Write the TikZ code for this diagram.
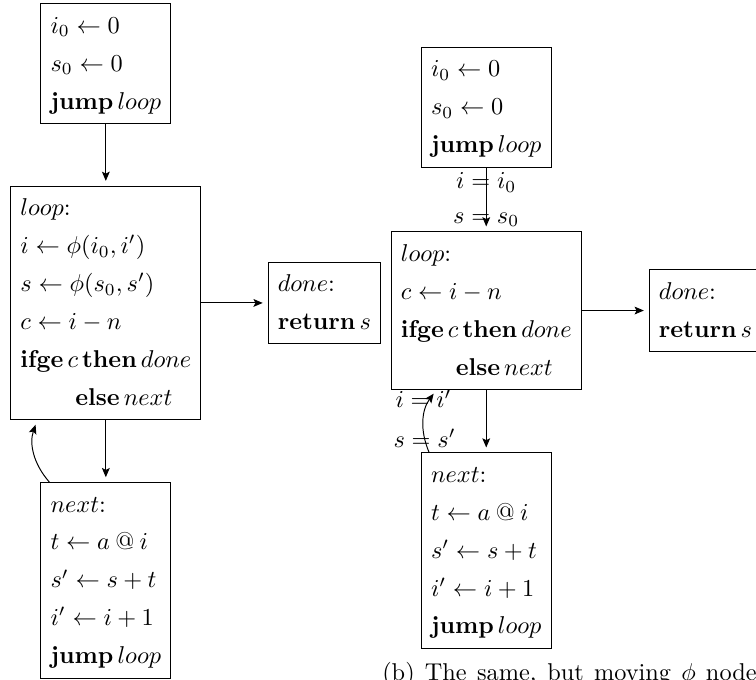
\documentclass[tikz,border=0pt]{standalone}
\usepackage{amsmath}
\usepackage{tikz}
\usetikzlibrary{arrows.meta}
\renewcommand{\arraystretch}{1.3}

\begin{document}
\begin{tikzpicture}[blk/.style={draw, inner xsep=4pt, inner ysep=1.2pt},
  arr/.style={-{Stealth[length=3.8pt,width=3.2pt,inset=0.8pt]}, shorten >=2pt},
  lbl/.style={inner sep=0pt}]
 \useasboundingbox (0,0) rectangle (10.93,9.82);
 % left: phi nodes in the loop header
 \node[blk] (entry1) at (1.53,8.90){\begin{tabular}{@{}l@{}}$i_0 \leftarrow 0$\\ $s_0 \leftarrow 0$\\ $\mathbf{jump}\,loop$\end{tabular}};
 \node[blk] (loop1) at (1.53,5.44){\begin{tabular}{@{}l@{}}$loop$:\\ $i \leftarrow \phi(i_0, i')$\\ $s \leftarrow \phi(s_0, s')$\\ $c \leftarrow i - n$\\ $\mathbf{ifge}\,c\,\mathbf{then}\,done$\\ \hspace*{22.6pt}$\mathbf{else}\,next$\end{tabular}};
 \node[blk] (done1) at (4.69,5.44){\begin{tabular}{@{}l@{}}$done$:\\ $\mathbf{return}\,s$\end{tabular}};
 \node[blk] (next1) at (1.53,1.43){\begin{tabular}{@{}l@{}}$next$:\\ $t \leftarrow a \mathbin{@} i$\\ $s' \leftarrow s + t$\\ $i' \leftarrow i + 1$\\ $\mathbf{jump}\,loop$\end{tabular}};
 \coordinate (back1s) at ([xshift=0.13cm]next1.north west);
 \coordinate (back1e) at ([xshift=0.39cm]loop1.south west);
 \draw[arr] (entry1.south) -- (loop1.north);
 \draw[arr] (loop1.east) -- (done1.west);
 \draw[arr] (loop1.south) -- (next1.north);
 \draw[arr] (back1s) to[bend left=30] (back1e);
 % right: the same, phi nodes moved to the edges
 \node[blk] (entry2) at (7.03,8.27){\begin{tabular}{@{}l@{}}$i_0 \leftarrow 0$\\ $s_0 \leftarrow 0$\\ $\mathbf{jump}\,loop$\end{tabular}};
 \node[blk] (loop2) at (7.03,5.33){\begin{tabular}{@{}l@{}}$loop$:\\ $c \leftarrow i - n$\\ $\mathbf{ifge}\,c\,\mathbf{then}\,done$\\ \hspace*{22.6pt}$\mathbf{else}\,next$\end{tabular}};
 \node[blk] (done2) at (10.20,5.33){\begin{tabular}{@{}l@{}}$done$:\\ $\mathbf{return}\,s$\end{tabular}};
 \node[blk] (next2) at (7.03,1.86){\begin{tabular}{@{}l@{}}$next$:\\ $t \leftarrow a \mathbin{@} i$\\ $s' \leftarrow s + t$\\ $i' \leftarrow i + 1$\\ $\mathbf{jump}\,loop$\end{tabular}};
 \coordinate (back2s) at ([xshift=0.12cm]next2.north west);
 \coordinate (back2e) at ([xshift=0.665cm]loop2.south west);
 \draw[arr] (entry2.south) -- node[lbl, pos=0.23]{$i = i_0$} node[lbl, pos=0.82]{$s = s_0$} (loop2.north);
 \draw[arr] (loop2.east) -- (done2.west);
 \draw[arr] (loop2.south) -- (next2.north);
 \draw[arr] (back2s) to[bend left=30] node[lbl, pos=0.21]{$s = s'$} node[lbl, pos=0.85, xshift=-3pt]{$i = i'$} (back2e);
 \node[anchor=base west, inner sep=0pt] (capb) at (5.52,-0.02){\makebox[154pt][s]{(b) The same, but moving $\phi$ node}};
\end{tikzpicture}
\end{document}
